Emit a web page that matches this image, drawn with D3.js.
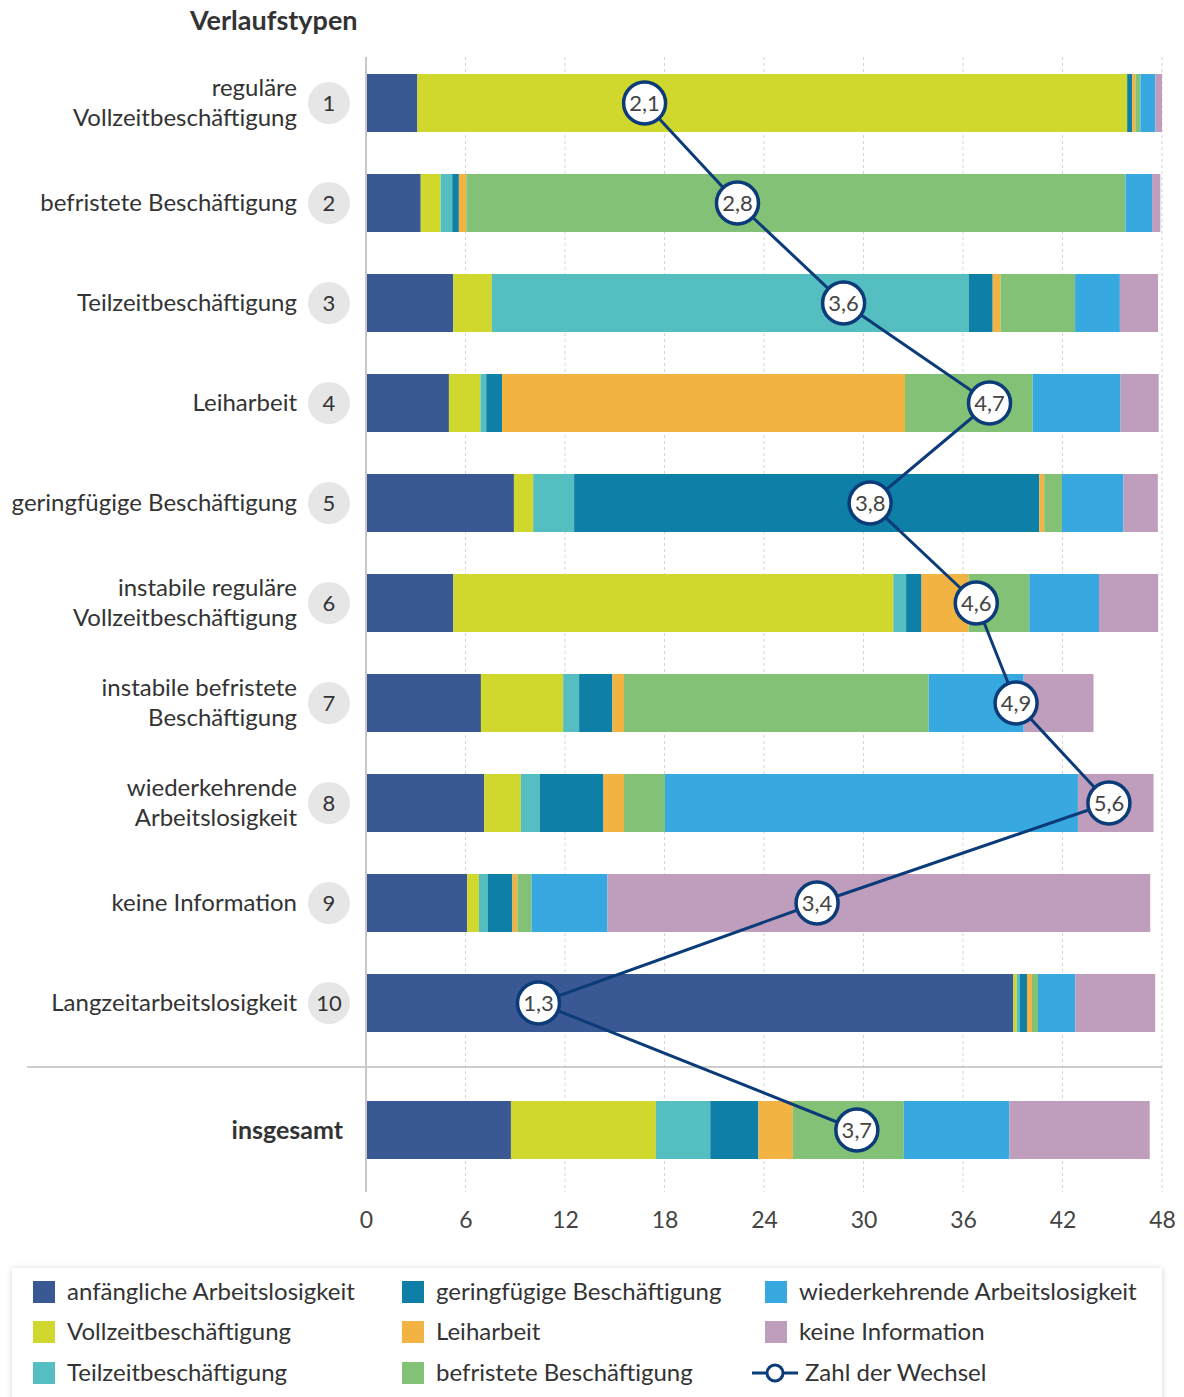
<!DOCTYPE html>
<html>
<head>
<meta charset="utf-8">
<script src="https://cdn.jsdelivr.net/npm/d3@7"></script>
<style>
  body { margin: 0; background: #fff; font-family: Lato, "Open Sans", sans-serif; }
  svg text { font-family: Lato, "Open Sans", sans-serif; }
</style>
</head>
<body>
<div id="chart"></div>
<script>
const width = 1184, height = 1397

// categories (stack order)
const categories = ["anfängliche Arbeitslosigkeit", "Vollzeitbeschäftigung", "Teilzeitbeschäftigung",
  "geringfügige Beschäftigung", "Leiharbeit", "befristete Beschäftigung",
  "wiederkehrende Arbeitslosigkeit", "keine Information"]
const colors = ["#3a5893", "#d0d82e", "#55bec0", "#0e7fa6", "#f2b342", "#82c176", "#38a9e0", "#bf9dbd"]

// Verlaufstypen
const typeIds = ["1", "2", "3", "4", "5", "6", "7", "8", "9", "10"]
const typeLabels = [
  ["reguläre", "Vollzeitbeschäftigung"],
  ["befristete Beschäftigung"],
  ["Teilzeitbeschäftigung"],
  ["Leiharbeit"],
  ["geringfügige Beschäftigung"],
  ["instabile reguläre", "Vollzeitbeschäftigung"],
  ["instabile befristete", "Beschäftigung"],
  ["wiederkehrende", "Arbeitslosigkeit"],
  ["keine Information"],
  ["Langzeitarbeitslosigkeit"]
]
// months per state, one row per type
const months = [
  [3.1, 42.8, 0, 0.3, 0.2, 0.3, 0.9, 0.4],
  [3.3, 1.2, 0.7, 0.4, 0.45, 39.75, 1.6, 0.5],
  [5.26, 2.33, 28.75, 1.45, 0.47, 4.5, 2.7, 2.3],
  [5.0, 1.9, 0.35, 0.95, 24.3, 7.7, 5.3, 2.3],
  [8.92, 1.16, 2.47, 28.05, 0.3, 1.07, 3.71, 2.07],
  [5.26, 26.54, 0.77, 0.93, 2.84, 3.66, 4.2, 3.57],
  [6.93, 4.96, 0.96, 2.01, 0.7, 18.37, 5.73, 4.21],
  [7.13, 2.21, 1.14, 3.84, 1.24, 2.47, 24.9, 4.56],
  [6.1, 0.71, 0.52, 1.5, 0.3, 0.85, 4.58, 32.73],
  [39.04, 0.2, 0.18, 0.44, 0.3, 0.36, 2.25, 4.82]
]
const totalMonths = [8.74, 8.74, 3.28, 2.9, 2.08, 6.69, 6.37, 8.46]

// Zahl der Wechsel
const changes = [2.1, 2.8, 3.6, 4.7, 3.8, 4.6, 4.9, 5.6, 3.4, 1.3]
const totalChanges = 3.7

const ticks = [0, 6, 12, 18, 24, 30, 36, 42, 48]

const svg = d3.select("#chart").append("svg")
  .attr("width", width)
  .attr("height", height)

const x = d3.scaleLinear().domain([0, 48]).range([366, 1162])
const xW = d3.scaleLinear().domain([0, 6]).range([366, 1162])
const y = d3.scaleBand().domain(typeIds).range([53, 1053]).paddingInner(0.42).paddingOuter(0.21)
const yTotal = 1101, barH = y.bandwidth()
const fmt = v => String(v).replace(".", ",")

// gridlines
svg.append("g").selectAll("line")
  .data(ticks.slice(1))
  .join("line")
  .attr("x1", d => x(d)).attr("x2", d => x(d))
  .attr("y1", 57).attr("y2", 1192)
  .attr("stroke", "#d4d4d4")
  .attr("stroke-dasharray", "3,3")

// title
svg.append("text")
  .attr("x", 190).attr("y", 30)
  .attr("font-size", 27).attr("font-weight", "bold").attr("fill", "#333")
  .text("Verlaufstypen")

// stacked bars
function stackRow(vals) {
  let acc = 0
  return vals.map((v, i) => { const s = { x0: acc, x1: acc + v, c: i }; acc += v; return s })
}

const rows = svg.append("g").selectAll("g")
  .data(typeIds)
  .join("g")
  .attr("transform", d => `translate(0,${y(d)})`)

rows.selectAll("rect")
  .data((d, i) => stackRow(months[i]))
  .join("rect")
  .attr("x", d => x(d.x0))
  .attr("width", d => Math.max(0, x(d.x1) - x(d.x0)))
  .attr("height", barH)
  .attr("fill", d => colors[d.c])

svg.append("g").attr("transform", `translate(0,${yTotal})`)
  .selectAll("rect")
  .data(stackRow(totalMonths))
  .join("rect")
  .attr("x", d => x(d.x0))
  .attr("width", d => Math.max(0, x(d.x1) - x(d.x0)))
  .attr("height", barH)
  .attr("fill", d => colors[d.c])

// left labels
rows.each(function (d, i) {
  const g = d3.select(this)
  const lines = typeLabels[i]
  const cy = barH / 2
  lines.forEach((t, j) => {
    g.append("text")
      .attr("x", 297)
      .attr("y", cy + (j - (lines.length - 1) / 2) * 30 + 8)
      .attr("text-anchor", "end")
      .attr("font-size", 24).attr("fill", "#333")
      .text(t)
  })
  g.append("circle").attr("cx", 329).attr("cy", cy).attr("r", 21).attr("fill", "#e6e6e6")
  g.append("text").attr("x", 329).attr("y", cy + 8)
    .attr("text-anchor", "middle").attr("font-size", 22).attr("fill", "#333")
    .text(d)
})

svg.append("text")
  .attr("x", 343).attr("y", yTotal + barH / 2 + 9)
  .attr("text-anchor", "end")
  .attr("font-size", 25).attr("font-weight", "bold").attr("fill", "#333")
  .text("insgesamt")

// separator
svg.append("line")
  .attr("x1", 27).attr("x2", 1162)
  .attr("y1", 1067).attr("y2", 1067)
  .attr("stroke", "#bdbdbd").attr("stroke-width", 1.5)

// y axis line
svg.append("line")
  .attr("x1", x(0)).attr("x2", x(0))
  .attr("y1", 57).attr("y2", 1192)
  .attr("stroke", "#c8c8c8").attr("stroke-width", 2)

// x axis
const xAxis = svg.append("g")
  .attr("transform", "translate(0,1206)")
  .call(d3.axisBottom(x).tickValues(ticks).tickSize(0).tickPadding(6))
xAxis.select(".domain").remove()
xAxis.selectAll("text").attr("font-size", 23).attr("fill", "#444")
  .style("font-family", "Lato, sans-serif")

// Zahl der Wechsel
const pts = changes.map((v, i) => [xW(v), y(typeIds[i]) + barH / 2])
pts.push([xW(totalChanges), yTotal + barH / 2])
const navy = "#0b3b78"

svg.append("path")
  .attr("d", d3.line()(pts))
  .attr("fill", "none")
  .attr("stroke", navy).attr("stroke-width", 3)

const marks = svg.append("g").selectAll("g")
  .data(pts)
  .join("g")
  .attr("transform", d => `translate(${d[0]},${d[1]})`)
marks.append("circle").attr("r", 21).attr("fill", "#fff").attr("stroke", navy).attr("stroke-width", 3.5)
marks.append("text")
  .attr("y", 8).attr("text-anchor", "middle")
  .attr("font-size", 22).attr("fill", "#444")
  .text((d, i) => fmt(i < changes.length ? changes[i] : totalChanges))

// legend
const defs = svg.append("defs")
const f = defs.append("filter").attr("id", "shadow").attr("x", "-5%").attr("y", "-20%").attr("width", "110%").attr("height", "150%")
f.append("feDropShadow").attr("dx", 0).attr("dy", 1).attr("stdDeviation", 3).attr("flood-color", "#000").attr("flood-opacity", 0.18)

svg.append("rect")
  .attr("x", 12).attr("y", 1268).attr("width", 1150).attr("height", 150)
  .attr("fill", "#fff").attr("filter", "url(#shadow)")

const legendPos = [[33, 1292], [33, 1332], [33, 1373], [402, 1292], [402, 1332], [402, 1373], [765, 1292], [765, 1332]]
const legendOrder = [0, 1, 2, 3, 4, 5, 6, 7]

const lg = svg.append("g").selectAll("g")
  .data(legendOrder)
  .join("g")
  .attr("transform", (d, i) => `translate(${legendPos[i][0]},${legendPos[i][1]})`)
lg.append("rect").attr("x", 0).attr("y", -11).attr("width", 22).attr("height", 22).attr("fill", d => colors[d])
lg.append("text").attr("x", 34).attr("y", 8).attr("font-size", 24).attr("fill", "#333").text(d => categories[d])

const lw = svg.append("g").attr("transform", "translate(752,1373)")
lw.append("line").attr("x1", 0).attr("x2", 46).attr("stroke", navy).attr("stroke-width", 3)
lw.append("circle").attr("cx", 23).attr("r", 8).attr("fill", "#fff").attr("stroke", navy).attr("stroke-width", 3)
lw.append("text").attr("x", 53).attr("y", 8).attr("font-size", 24).attr("fill", "#333").text("Zahl der Wechsel")
</script>
</body>
</html>
